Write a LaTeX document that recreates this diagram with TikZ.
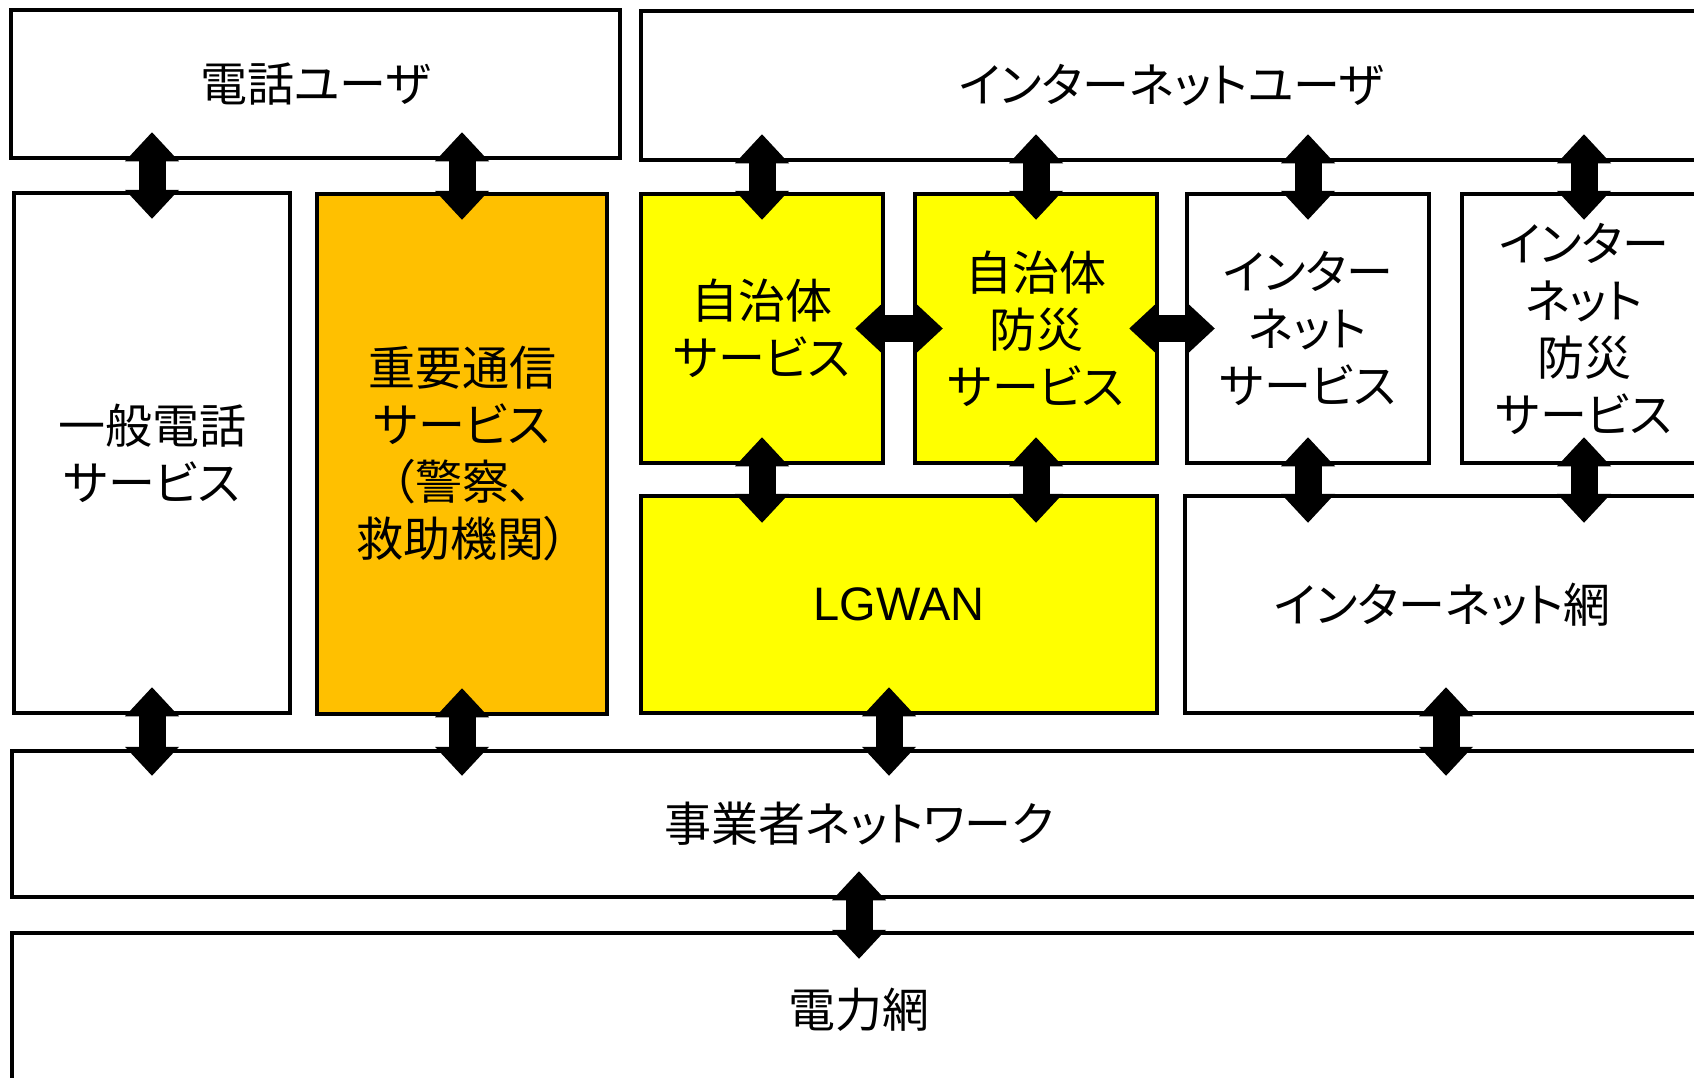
\documentclass[tikz,border=0pt]{standalone}
\usepackage{fontspec}
\setmainfont[RawFeature=+palt]{Noto Sans CJK JP}
\newfontfamily\latinfont{Liberation Sans}
\usetikzlibrary{arrows.meta}
\definecolor{boxorange}{HTML}{FFC000}
\definecolor{boxyellow}{HTML}{FFFF00}
\tikzset{
  box/.style={draw=black, line width=4.5pt, inner sep=0pt, align=center,
    font=\fontsize{47pt}{57pt}\selectfont},
  bigarr/.style={line width=27pt, draw=black,
    arrows={Triangle[width=54pt,length=29pt,line width=0pt]-Triangle[width=54pt,length=29pt,line width=0pt]}}
}
\begin{document}
\begin{tikzpicture}[x=1pt,y=-1pt]
\useasboundingbox (0,0) rectangle (1694,1077);
\fill[white] (0,0) rectangle (1694,1077);
\clip (0,0) rectangle (1694,1077);
% boxes
\node[box, fill=white, minimum width=609pt, minimum height=148pt] (teluser) at (315.5,84) {電話ユーザ};
\node[box, fill=white, minimum width=1061pt, minimum height=149pt] (netuser) at (1171.5,85.5) {インターネットユーザ};
\node[box, fill=white, minimum width=276pt, minimum height=520pt] (ippan) at (152,453) {一般電話\\サービス};
\node[box, fill=boxorange, minimum width=290pt, minimum height=520pt] (juyo) at (462,454) {重要通信\\サービス\\（警察、\\救助機関）};
\node[box, fill=boxyellow, minimum width=242pt, minimum height=269pt] (jichi) at (762,328.5) {自治体\\サービス};
\node[box, fill=boxyellow, minimum width=242pt, minimum height=269pt] (bousai) at (1036,328.5) {自治体\\防災\\サービス};
\node[box, fill=white, minimum width=242pt, minimum height=269pt] (netsvc) at (1308,328.5) {インター\\ネット\\サービス};
\node[box, fill=white, minimum width=244pt, minimum height=269pt] (netbousai) at (1584,328.5) {インター\\ネット\\防災\\サービス};
\node[box, fill=boxyellow, minimum width=516pt, minimum height=217pt] (lgwan) at (899,604.5) {\latinfont LGWAN};
\node[box, fill=white, minimum width=515pt, minimum height=217pt] (netmo) at (1442.5,604.5) {インターネット網};
\node[box, fill=white, minimum width=1694pt, minimum height=146pt] (jigyo) at (859,824) {事業者ネットワーク};
\node[box, fill=white, minimum width=1694pt, minimum height=154pt] (denryoku) at (859,1010) {電力網};
% arrows: top row
\foreach \c in {ippan,juyo}{
  \draw[bigarr] ([yshift=28pt]\c.north |- teluser.south) -- ([yshift=-28pt]\c.north);
}
\foreach \c in {jichi,bousai,netsvc,netbousai}{
  \draw[bigarr] ([yshift=28pt]\c.north |- netuser.south) -- ([yshift=-28pt]\c.north);
}
% middle
\foreach \c in {jichi,bousai}{
  \draw[bigarr] ([yshift=28pt]\c.south) -- ([yshift=-29pt]\c.south |- lgwan.north);
}
\foreach \c in {netsvc,netbousai}{
  \draw[bigarr] ([yshift=28pt]\c.south) -- ([yshift=-29pt]\c.south |- netmo.north);
}
% horizontal
\draw[bigarr] ([xshift=-30pt]jichi.east) -- ([xshift=30pt]bousai.west);
\draw[bigarr] ([xshift=-30pt]bousai.east) -- ([xshift=30pt]netsvc.west);
% bottom
\foreach \c in {ippan,juyo}{
  \draw[bigarr] ([yshift=28pt]\c.south) -- ([yshift=-27pt]\c.south |- jigyo.north);
}
\draw[bigarr] ([xshift=-10pt,yshift=28pt]lgwan.south) -- ([xshift=-10pt,yshift=-27pt]lgwan.south |- jigyo.north);
\draw[bigarr] ([xshift=3.5pt,yshift=28pt]netmo.south) -- ([xshift=3.5pt,yshift=-27pt]netmo.south |- jigyo.north);
\draw[bigarr] ([yshift=28pt]jigyo.south) -- ([yshift=-28pt]denryoku.north);
\end{tikzpicture}
\end{document}
